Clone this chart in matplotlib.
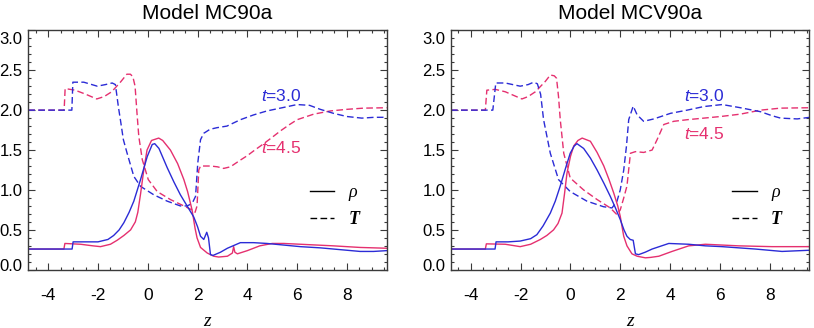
import matplotlib
matplotlib.use("Agg")
import matplotlib.pyplot as plt
import matplotlib.transforms as mtransforms
from matplotlib.lines import Line2D
from matplotlib.ticker import MultipleLocator

plt.rcParams['font.family'] = ['Liberation Sans', 'DejaVu Sans']
plt.rcParams['mathtext.fontset'] = 'custom'
plt.rcParams['mathtext.it'] = 'Liberation Sans:italic'
plt.rcParams['mathtext.rm'] = 'Liberation Sans'
plt.rcParams['axes.unicode_minus'] = False

titles = ["Model MC90a", "Model MCV90a"]
time_labels = ["t=3.0", "t=4.5"]

# ---------------- Panel 1: MC90a ----------------
z_rho3_a = [-4.8, -3.04, -3.0, -2.5, -2.0, -1.6, -1.37, -1.15, -0.96, -0.75, -0.56, -0.29, -0.02, 0.18, 0.28,
            0.45, 0.78, 1.05, 1.31, 1.58, 1.85, 2.0, 2.12, 2.25, 2.37, 2.44, 2.52, 2.62, 2.92, 3.2, 3.72, 4.25,
            4.79, 5.46, 6.13, 6.93, 8.0, 8.53, 9.07, 9.6]
rho3_a = [0.26, 0.26, 0.35, 0.35, 0.35, 0.38, 0.43, 0.50, 0.59, 0.72, 0.86, 1.13, 1.42, 1.57, 1.58,
          1.52, 1.28, 1.10, 0.94, 0.80, 0.66, 0.54, 0.42, 0.38, 0.47, 0.40, 0.19, 0.18, 0.22, 0.27, 0.34, 0.34,
          0.33, 0.31, 0.29, 0.275, 0.245, 0.23, 0.23, 0.24]

z_rho45_a = [-4.8, -3.37, -3.33, -2.7, -2.2, -1.9, -1.5, -1.23, -0.96, -0.69, -0.5, -0.4, -0.29, -0.16, -0.03,
             0.15, 0.44, 0.6, 0.91, 1.2, 1.45, 1.6, 1.78, 1.9, 1.98, 2.12, 2.39, 2.65, 2.85, 3.2, 3.4, 3.45,
             3.5, 3.6, 4.0, 4.5, 5.0, 5.46, 6.13, 7.46, 8.53, 9.6]
rho45_a = [0.26, 0.26, 0.33, 0.32, 0.30, 0.29, 0.32, 0.37, 0.43, 0.50, 0.60, 0.72, 0.95, 1.25, 1.50,
           1.62, 1.65, 1.62, 1.50, 1.33, 1.13, 0.98, 0.75, 0.52, 0.40, 0.28, 0.21, 0.17, 0.16, 0.17, 0.21, 0.29,
           0.22, 0.20, 0.24, 0.30, 0.33, 0.33, 0.32, 0.30, 0.28, 0.27]

z_T3_a = [-4.8, -3.05, -3.01, -2.57, -2.03, -1.7, -1.43, -1.30, -1.18, -1.10, -0.98, -0.83, -0.56, -0.29, 0.24,
          0.78, 1.31, 1.58, 1.78, 1.92, 2.01, 2.12, 2.25, 2.5, 2.78, 3.18, 3.72, 4.25, 4.79, 5.4, 6.0, 6.5,
          6.93, 7.46, 8.0, 8.6, 9.1, 9.6]
T3_a = [2.0, 2.0, 2.35, 2.35, 2.30, 2.32, 2.34, 2.32, 2.04, 1.88, 1.63, 1.46, 1.17, 1.045, 0.94,
        0.86, 0.80, 0.80, 0.83, 0.92, 1.34, 1.63, 1.71, 1.76, 1.78, 1.80, 1.88, 1.94, 1.99, 2.03, 2.07, 2.06,
        2.01, 1.96, 1.92, 1.90, 1.91, 1.91]

z_T45_a = [-4.8, -3.36, -3.32, -2.92, -2.5, -2.05, -1.75, -1.45, -1.1, -0.84, -0.7, -0.6, -0.51, -0.43, -0.36,
           -0.22, 0.02, 0.38, 0.91, 1.45, 1.78, 1.9, 1.98, 2.05, 2.12, 2.52, 2.8, 3.05, 3.32, 3.7, 4.0, 4.3,
           4.66, 5.0, 5.33, 5.7, 6.0, 6.67, 7.34, 8.0, 8.67, 9.6]
T45_a = [2.0, 2.0, 2.27, 2.25, 2.20, 2.14, 2.17, 2.23, 2.35, 2.45, 2.45, 2.42, 2.30, 1.95, 1.67,
         1.38, 1.13, 0.98, 0.88, 0.80, 0.75, 0.72, 0.80, 1.25, 1.30, 1.30, 1.29, 1.27, 1.29, 1.37, 1.43, 1.50,
         1.58, 1.66, 1.74, 1.82, 1.88, 1.95, 1.99, 2.01, 2.025, 2.03]

# ---------------- Panel 2: MCV90a ----------------
z_rho3_b = [-4.8, -3.03, -2.99, -2.5, -2.02, -1.6, -1.35, -1.1, -0.81, -0.61, -0.41, -0.2, -0.01, 0.15, 0.26,
            0.53, 0.8, 1.07, 1.35, 1.6, 1.8, 2.0, 2.15, 2.27, 2.4, 2.52, 2.61, 2.74, 3.0, 3.28, 3.95, 4.75,
            5.42, 6.09, 7.43, 8.5, 9.62]
rho3_b = [0.26, 0.26, 0.35, 0.35, 0.36, 0.39, 0.44, 0.55, 0.71, 0.86, 1.05, 1.27, 1.46, 1.55, 1.58,
          1.52, 1.40, 1.25, 1.08, 0.92, 0.78, 0.63, 0.50, 0.42, 0.38, 0.37, 0.20, 0.19, 0.22, 0.26, 0.33, 0.32,
          0.30, 0.29, 0.26, 0.23, 0.245]

z_rho45_b = [-4.8, -3.42, -3.38, -2.62, -2.02, -1.6, -1.21, -0.95, -0.68, -0.5, -0.34, -0.24, -0.14, 0.0, 0.13,
             0.3, 0.47, 0.8, 1.07, 1.34, 1.55, 1.74, 1.9, 2.0, 2.14, 2.27, 2.47, 2.68, 3.01, 3.21, 3.55, 4.08,
             4.75, 5.42, 6.76, 8.1, 9.62]
rho45_b = [0.26, 0.26, 0.325, 0.32, 0.29, 0.32, 0.38, 0.43, 0.50, 0.58, 0.71, 0.95, 1.21, 1.42, 1.55,
           1.62, 1.65, 1.61, 1.47, 1.30, 1.13, 0.96, 0.80, 0.67, 0.42, 0.30, 0.20, 0.17, 0.15, 0.155, 0.17, 0.23,
           0.30, 0.32, 0.30, 0.29, 0.29]

z_T3_b = [-4.8, -3.12, -3.0, -2.62, -2.02, -1.7, -1.48, -1.33, -1.2, -1.08, -0.81, -0.48, -0.01, 0.66, 1.33,
          1.67, 1.87, 2.0, 2.14, 2.25, 2.34, 2.52, 2.68, 2.94, 3.35, 4.02, 4.69, 5.36, 6.1, 6.83, 7.64, 8.1,
          8.44, 9.11, 9.62]
T3_b = [2.0, 2.0, 2.34, 2.34, 2.30, 2.32, 2.35, 2.33, 2.2, 1.88, 1.46, 1.13, 0.98, 0.86, 0.79,
        0.775, 0.86, 1.0, 1.25, 1.55, 1.88, 2.05, 1.94, 1.86, 1.89, 1.96, 2.00, 2.045, 2.07, 2.03, 1.98, 1.93,
        1.90, 1.89, 1.91]

z_T45_b = [-4.8, -3.42, -3.36, -3.02, -2.62, -1.95, -1.7, -1.41, -1.01, -0.81, -0.65, -0.56, -0.48, -0.41,
           -0.27, -0.01, 0.53, 1.07, 1.6, 1.87, 2.0, 2.14, 2.27, 2.41, 2.61, 2.94, 3.28, 3.48, 3.75, 4.15, 4.69,
           5.36, 6.03, 6.83, 7.64, 8.44, 9.62]
T45_b = [2.0, 2.0, 2.25, 2.26, 2.23, 2.14, 2.17, 2.23, 2.36, 2.44, 2.43, 2.40, 2.17, 1.88,
         1.46, 1.15, 1.0, 0.88, 0.775, 0.69, 0.75, 0.90, 1.05, 1.46, 1.48, 1.47, 1.50, 1.63, 1.82, 1.86, 1.88,
         1.90, 1.92, 1.95, 2.0, 2.025, 2.03]

panels = [
    (z_rho3_a, rho3_a, z_rho45_a, rho45_a, z_T3_a, T3_a, z_T45_a, T45_a),
    (z_rho3_b, rho3_b, z_rho45_b, rho45_b, z_T3_b, T3_b, z_T45_b, T45_b),
]
# label positions (data coords): t=3.0 and t=4.5
label_pos = [((4.53, 2.18), (4.53, 1.52)), ((4.55, 2.18), (4.55, 1.70))]

BLUE = '#2b2bd6'
PINK = '#e5306f'
FRAME = '#3a3a3a'
DASH = (0, (4.8, 2.4))

fig = plt.figure(figsize=(8.14, 3.28), dpi=100)
axes_rects = [[28.3 / 814, 1 - 269.8 / 328, 358.4 / 814, 239.5 / 328],
              [451.0 / 814, 1 - 269.8 / 328, 358.4 / 814, 239.5 / 328]]

for i, (rect, data) in enumerate(zip(axes_rects, panels)):
    ax = fig.add_axes(rect)
    zr3, r3, zr45, r45, zt3, t3, zt45, t45 = data
    ax.plot(zt45, t45, color=PINK, lw=1.0, linestyle=DASH)
    ax.plot(zt3, t3, color=BLUE, lw=1.0, linestyle=DASH)
    ax.plot(zr45, r45, color=PINK, lw=1.0)
    ax.plot(zr3, r3, color=BLUE, lw=1.0)

    ax.set_xlim(-4.8, 9.6)
    ax.set_ylim(0.0, 3.0)
    ax.xaxis.set_major_locator(MultipleLocator(2))
    ax.xaxis.set_minor_locator(MultipleLocator(0.5))
    ax.yaxis.set_minor_locator(MultipleLocator(0.1))
    ax.set_yticks([0.0, 0.5, 1.0, 1.5, 2.0, 2.5, 3.0])
    ax.set_yticklabels(['0.0', '0.5', '1.0', '1.5', '2.0', '2.5', '3.0'])
    ax.tick_params(which='both', direction='in', top=True, right=True, color=FRAME, width=0.8)
    ax.tick_params(which='major', length=5)
    ax.tick_params(which='minor', length=2.5)
    ax.tick_params(axis='x', which='major', pad=13, labelsize=12.5)
    ax.tick_params(axis='y', which='major', pad=4, labelsize=12)
    for s in ax.spines.values():
        s.set_color(FRAME)
        s.set_linewidth(1.0)

    # edge y labels sit slightly inside
    ylabs = ax.get_yticklabels()
    ylabs[0].set_transform(ylabs[0].get_transform() +
                           mtransforms.ScaledTranslation(0, 5 / 100, fig.dpi_scale_trans))
    ylabs[-1].set_transform(ylabs[-1].get_transform() +
                            mtransforms.ScaledTranslation(0, -8 / 100, fig.dpi_scale_trans))

    ax.set_title(titles[i], fontsize=15, pad=8)
    ax.set_xlabel('z', fontsize=14, family=['Liberation Serif'], style='italic', labelpad=7)

    (x1, y1), (x2, y2) = label_pos[i]
    ax.text(x1, y1, r'$\it{t}$=3.0', color=BLUE, fontsize=12.5, va='center', ha='left')
    ax.text(x2, y2, r'$\it{t}$=4.5', color=PINK, fontsize=12.5, va='center', ha='left')

    handles = [Line2D([], [], color='black', lw=1.0),
               Line2D([], [], color='black', lw=1.0, linestyle=DASH)]
    leg = ax.legend(handles, ['ρ', 'T'], loc='upper left', bbox_to_anchor=(0.785, 0.357),
                    frameon=False, handlelength=1.35, handletextpad=0.8, labelspacing=0.55,
                    borderpad=0, borderaxespad=0,
                    prop={'family': 'Liberation Serif', 'style': 'italic', 'size': 13})
    leg.get_texts()[1].set_fontweight('bold')

fig.savefig('out.png', dpi=100)
